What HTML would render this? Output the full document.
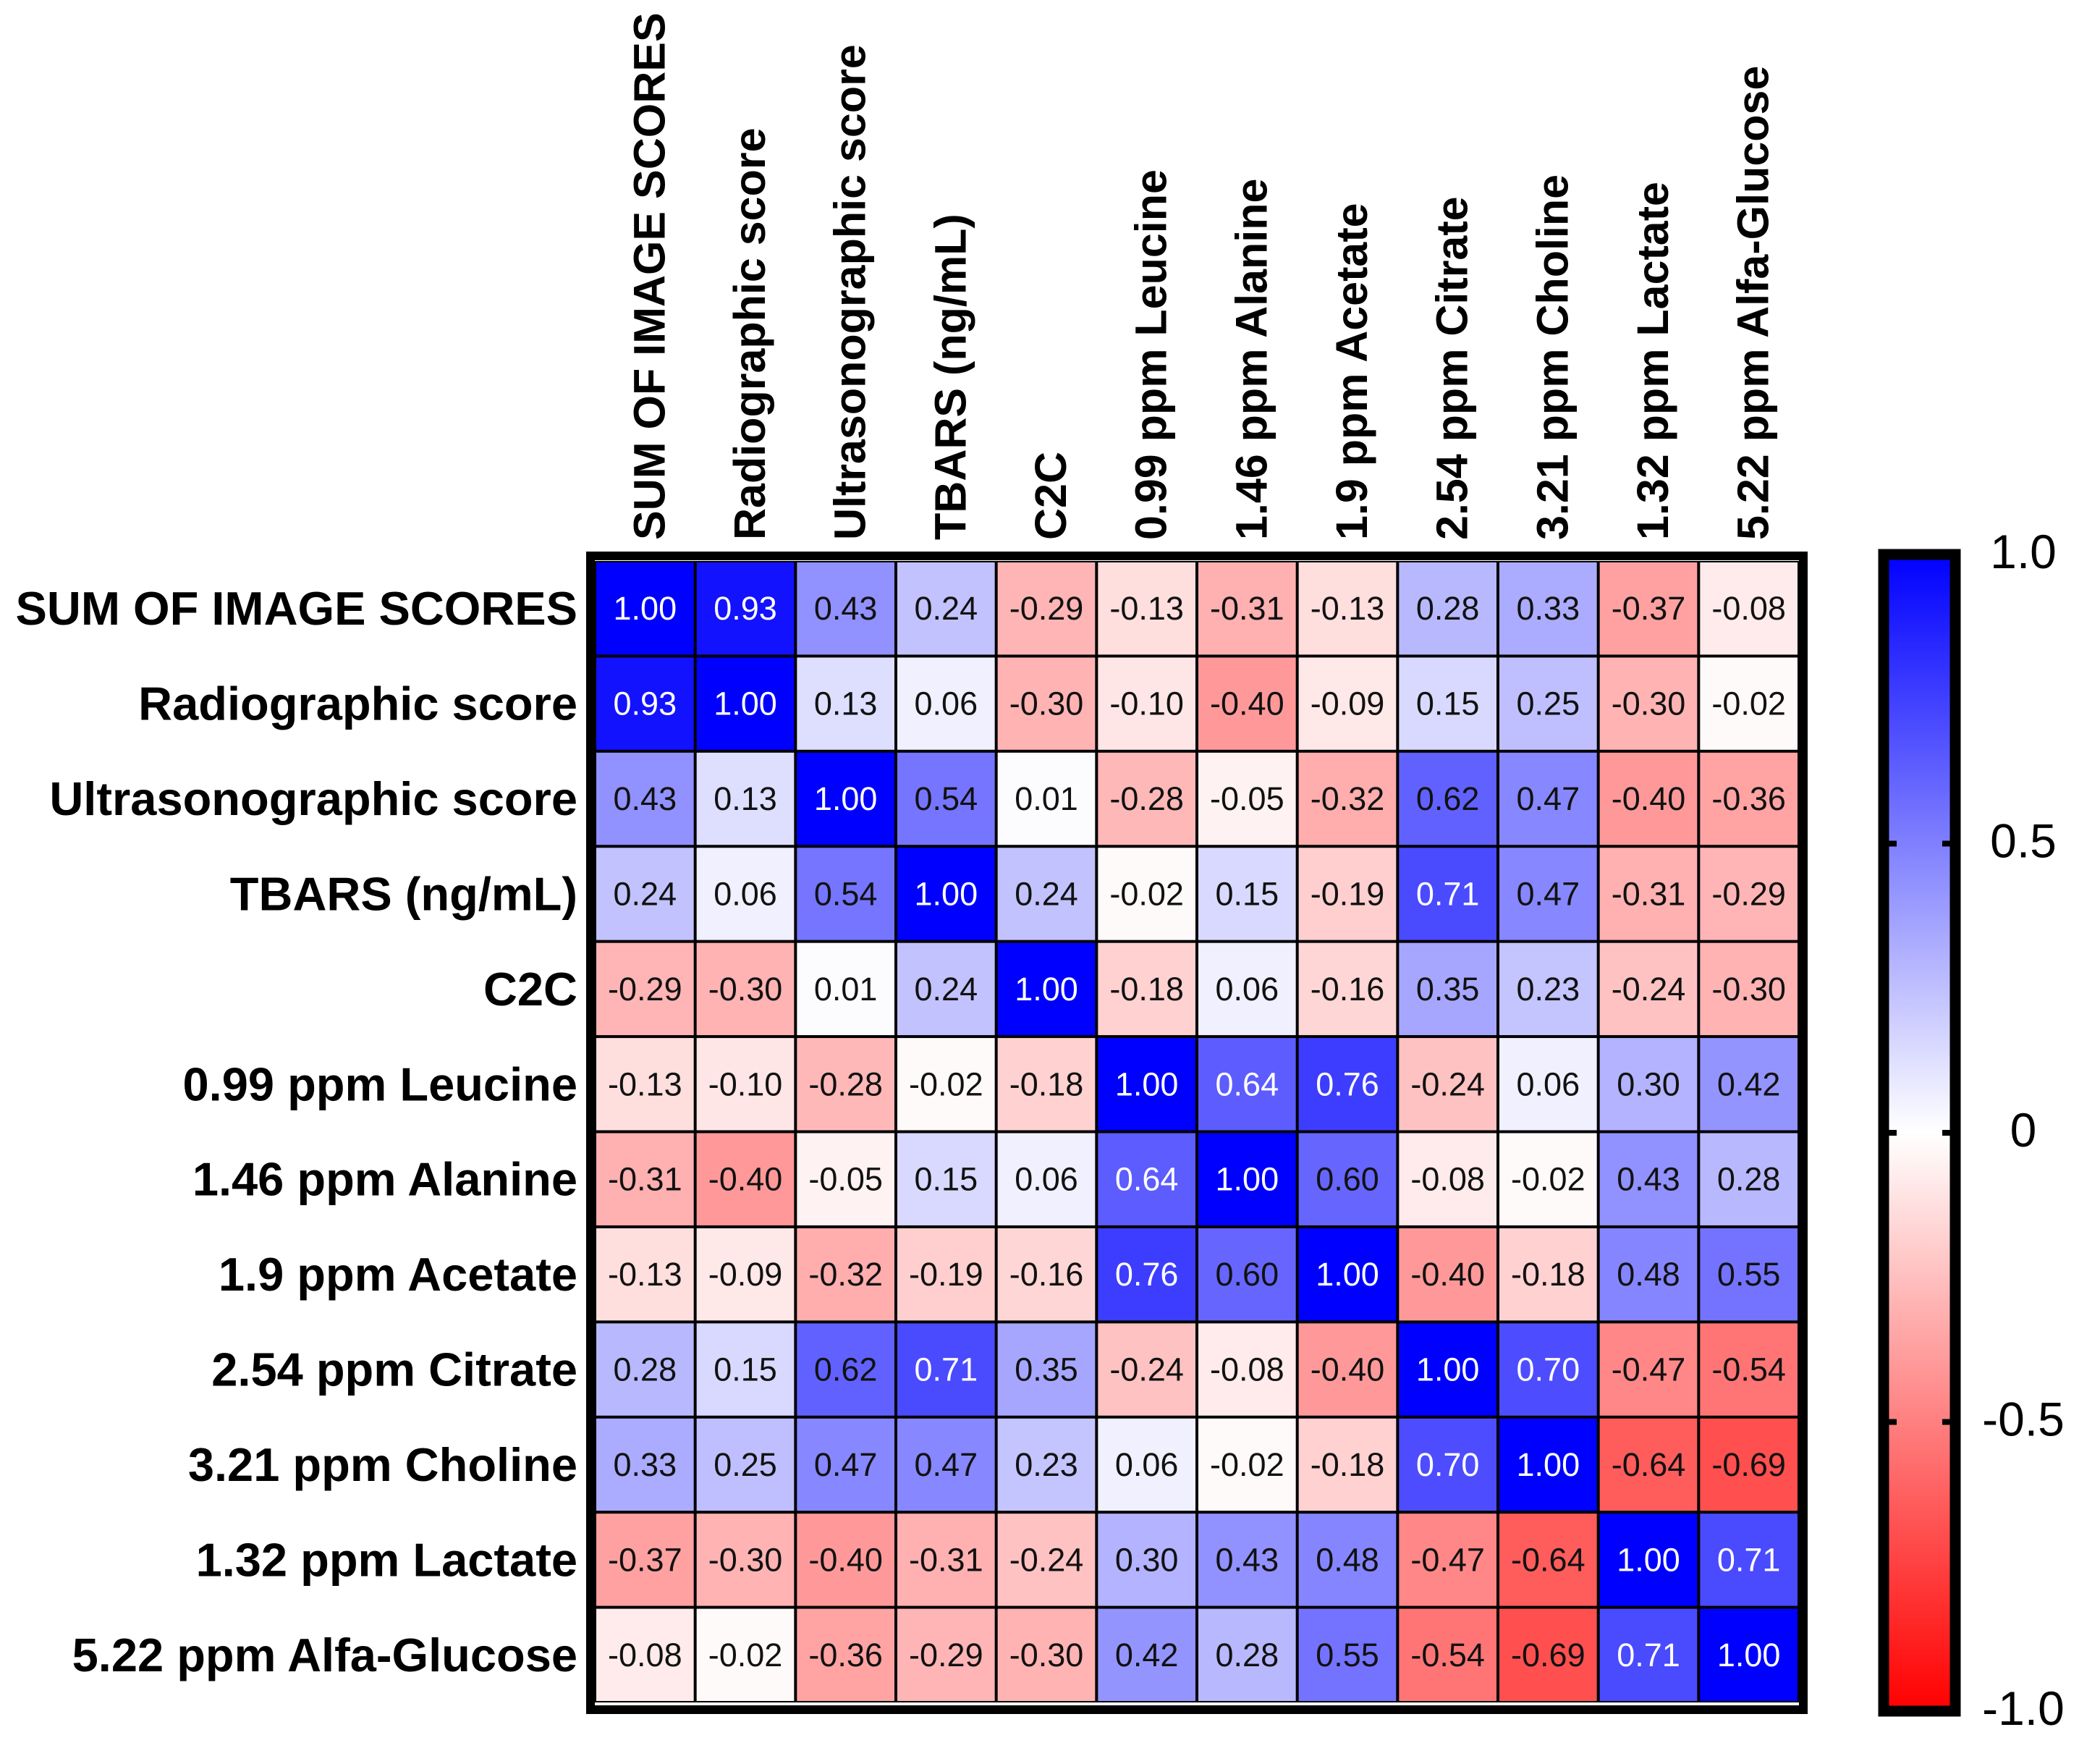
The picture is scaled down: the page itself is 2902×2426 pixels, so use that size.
<!DOCTYPE html>
<html><head><meta charset="utf-8"><style>
html,body{margin:0;padding:0;background:#fff;}
svg{display:block;}
</style></head><body>
<svg id="chart" width="2902" height="2426" viewBox="0 0 2902 2426" xmlns="http://www.w3.org/2000/svg">
<defs>
<linearGradient id="cbgrad" x1="0" y1="0" x2="0" y2="1">
<stop offset="0" stop-color="#0000ff"/>
<stop offset="0.5" stop-color="#ffffff"/>
<stop offset="1" stop-color="#ff0000"/>
</linearGradient>
</defs>
<g id="cells"></g>
<g id="rowlabels"></g>
<g id="collabels"></g>
<g id="colorbar"></g>
</svg>
<script>
const variables = ["SUM OF IMAGE SCORES","Radiographic score","Ultrasonographic score","TBARS (ng/mL)","C2C","0.99 ppm Leucine","1.46 ppm Alanine","1.9 ppm Acetate","2.54 ppm Citrate","3.21 ppm Choline","1.32 ppm Lactate","5.22 ppm Alfa-Glucose"];
const row1 = [1.00,0.93,0.43,0.24,-0.29,-0.13,-0.31,-0.13,0.28,0.33,-0.37,-0.08];
const row2 = [0.93,1.00,0.13,0.06,-0.30,-0.10,-0.40,-0.09,0.15,0.25,-0.30,-0.02];
const row3 = [0.43,0.13,1.00,0.54,0.01,-0.28,-0.05,-0.32,0.62,0.47,-0.40,-0.36];
const row4 = [0.24,0.06,0.54,1.00,0.24,-0.02,0.15,-0.19,0.71,0.47,-0.31,-0.29];
const row5 = [-0.29,-0.30,0.01,0.24,1.00,-0.18,0.06,-0.16,0.35,0.23,-0.24,-0.30];
const row6 = [-0.13,-0.10,-0.28,-0.02,-0.18,1.00,0.64,0.76,-0.24,0.06,0.30,0.42];
const row7 = [-0.31,-0.40,-0.05,0.15,0.06,0.64,1.00,0.60,-0.08,-0.02,0.43,0.28];
const row8 = [-0.13,-0.09,-0.32,-0.19,-0.16,0.76,0.60,1.00,-0.40,-0.18,0.48,0.55];
const row9 = [0.28,0.15,0.62,0.71,0.35,-0.24,-0.08,-0.40,1.00,0.70,-0.47,-0.54];
const row10 = [0.33,0.25,0.47,0.47,0.23,0.06,-0.02,-0.18,0.70,1.00,-0.64,-0.69];
const row11 = [-0.37,-0.30,-0.40,-0.31,-0.24,0.30,0.43,0.48,-0.47,-0.64,1.00,0.71];
const row12 = [-0.08,-0.02,-0.36,-0.29,-0.30,0.42,0.28,0.55,-0.54,-0.69,0.71,1.00];
const scaleTicks = [1.0,0.5,0,-0.5,-1.0];
const scaleTickLabels = ["1.0","0.5","0","-0.5","-1.0"];

const matrix=[row1,row2,row3,row4,row5,row6,row7,row8,row9,row10,row11,row12];
const NS="http://www.w3.org/2000/svg";
const gx0=822,gy0=775,gw=1664,gh=1577;
const n=variables.length;
const cw=gw/n, ch=gh/n;
const xPos=i=>gx0+i*cw;
const yPos=j=>gy0+j*ch;
function color(v){
  const t=Math.min(1,Math.abs(v));
  const c=Math.round(255*(1-t));
  return v>=0?`rgb(${c},${c},255)`:`rgb(255,${c},${c})`;
}
function mk(tag,attrs,parent){const e=document.createElementNS(NS,tag);for(const k in attrs)e.setAttribute(k,attrs[k]);parent.appendChild(e);return e;}
const cells=document.getElementById('cells');
const bg=mk('rect',{x:gx0,y:gy0,width:gw,height:gh,fill:'#000'},cells);


for(let r=0;r<n;r++){for(let c=0;c<n;c++){
  const v=matrix[r][c];
  const rc=mk('rect',{x:xPos(c)+2,y:yPos(r)+2,width:cw-4,height:ch-4,fill:color(v)},cells);
  
  
  const t=mk('text',{x:xPos(c)+cw/2,y:yPos(r)+ch/2,'text-anchor':'middle','dominant-baseline':'central','font-family':'Liberation Sans, sans-serif','font-size':45,fill:v>=0.63?'#fff':'#111'},cells);
  t.textContent=v.toFixed(2);
  
  
}}
const border=mk('rect',{x:gx0-6,y:gy0-7,width:gw+12,height:gh+17,fill:'none',stroke:'#000','stroke-width':12},cells);


const rl=document.getElementById('rowlabels'),cl=document.getElementById('collabels');
for(let i=0;i<n;i++){
  const t=mk('text',{x:798,y:yPos(i)+ch/2,'text-anchor':'end','dominant-baseline':'central','font-family':'Liberation Sans, sans-serif','font-weight':'bold','font-size':65,fill:'#000'},rl);
  t.textContent=variables[i];
  
  
  const cx=xPos(i)+cw/2+6;
  const u=mk('text',{x:0,y:0,transform:`translate(${cx},746) rotate(-90)`,'text-anchor':'start','dominant-baseline':'central','font-family':'Liberation Sans, sans-serif','font-weight':'bold','font-size':61,fill:'#000'},cl);
  u.textContent=variables[i];
  
  
}
const cb=document.getElementById('colorbar');
const cbx=2603,cbw=99,cby0=766,cbh=1598;
const cbY=v=>cby0+(1-v)/2*cbh;
const grad=mk('rect',{x:cbx,y:cby0,width:cbw,height:cbh,fill:'url(#cbgrad)',stroke:'#000','stroke-width':15},cb);


scaleTicks.forEach((v,i)=>{
  if(Math.abs(v)<1){
    const a=mk('line',{x1:cbx,x2:cbx+18,y1:cbY(v),y2:cbY(v),stroke:'#000','stroke-width':8},cb);
    
    
    const b=mk('line',{x1:cbx+cbw-18,x2:cbx+cbw,y1:cbY(v),y2:cbY(v),stroke:'#000','stroke-width':8},cb);
    
    
  }
  const t=mk('text',{x:2796,y:cbY(v)-4,'text-anchor':'middle','dominant-baseline':'central','font-family':'Liberation Sans, sans-serif','font-size':66,fill:'#000'},cb);
  t.textContent=scaleTickLabels[i];
  
  
});
</script>
</body></html>
